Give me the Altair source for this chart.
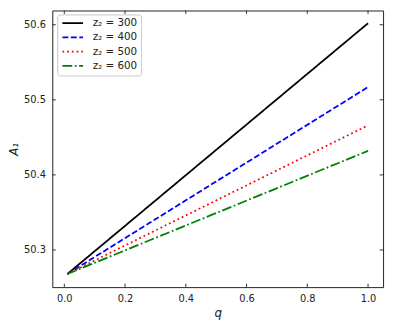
import altair as alt
import pandas as pd

# data
series = ["z₂ = 300", "z₂ = 400", "z₂ = 500", "z₂ = 600"]
q_vals = [0.01, 1.0]
a_300 = [50.268, 50.602]
a_400 = [50.268, 50.517]
a_500 = [50.268, 50.466]
a_600 = [50.268, 50.432]
colors = ["#000000", "#0000ff", "#ff0000", "#008000"]
dashes = [[1, 0], [6, 2.6], [1.8, 3], [10, 2.6, 1.8, 2.6]]
x_ticks = [0.0, 0.2, 0.4, 0.6, 0.8, 1.0]
y_ticks = [50.3, 50.4, 50.5, 50.6]

rows = []
for name, vals in zip(series, [a_300, a_400, a_500, a_600]):
    for qv, av in zip(q_vals, vals):
        rows.append({"series": name, "q": qv, "A": av})
df = pd.DataFrame(rows)

W, H = 336, 281
xs = alt.Scale(domain=[-0.0395, 1.0495], nice=False, zero=False)
ys = alt.Scale(domain=[50.2505, 50.619], nice=False, zero=False)

leg = dict(title=None, orient="none", legendX=5, legendY=4,
           symbolType="M-3,0H3", symbolSize=49, symbolStrokeWidth=1.8,
           symbolOffset=7, labelFontSize=10.5, rowPadding=3.5,
           fillColor="white", strokeColor="#c8c8c8", padding=3.5,
           cornerRadius=2, labelOffset=15)

lines = alt.Chart(df).mark_line(strokeWidth=1.8).encode(
    x=alt.X("q:Q", scale=xs, title="q",
            axis=alt.Axis(values=x_ticks, format=".1f", ticks=False, domain=False,
                          grid=False, labelPadding=7, titlePadding=4,
                          titleFontStyle="italic", titleFontWeight="normal")),
    y=alt.Y("A:Q", scale=ys, title="A₁",
            axis=alt.Axis(values=y_ticks, format=".1f", ticks=False, domain=False,
                          grid=False, labelPadding=7, titlePadding=3,
                          titleFontStyle="italic", titleFontWeight="normal")),
    color=alt.Color("series:N", scale=alt.Scale(domain=series, range=colors),
                    legend=alt.Legend(**leg)),
    strokeDash=alt.StrokeDash("series:N", scale=alt.Scale(domain=series, range=dashes),
                              legend=alt.Legend(**leg)),
)

xt = pd.DataFrame({"t": x_ticks})
yt = pd.DataFrame({"t": y_ticks})
tick_color = "#333333"
xb = alt.Chart(xt).mark_rule(color=tick_color, strokeWidth=1).encode(
    x=alt.X("t:Q", scale=xs), y=alt.value(H), y2=alt.value(H - 3.5))
xtop = alt.Chart(xt).mark_rule(color=tick_color, strokeWidth=1).encode(
    x=alt.X("t:Q", scale=xs), y=alt.value(0), y2=alt.value(3.5))
yl = alt.Chart(yt).mark_rule(color=tick_color, strokeWidth=1).encode(
    y=alt.Y("t:Q", scale=ys), x=alt.value(0), x2=alt.value(3.5))
yr = alt.Chart(yt).mark_rule(color=tick_color, strokeWidth=1).encode(
    y=alt.Y("t:Q", scale=ys), x=alt.value(W), x2=alt.value(W - 3.5))

chart = alt.layer(xb, xtop, yl, yr, lines).properties(
    width=W, height=H,
    autosize=alt.AutoSizeParams(type="none"),
    padding={"left": 45, "top": 0, "right": 5, "bottom": 40},
).configure_view(stroke="#222222", strokeWidth=1).configure_axis(
    labelFont="DejaVu Sans", titleFont="DejaVu Sans", labelFontSize=10,
    titleFontSize=12, labelColor="#222222", titleColor="#222222"
).configure_legend(labelFont="DejaVu Sans", labelColor="#222222")

chart.save("out.html", embed_options={"renderer": "svg", "actions": False})
